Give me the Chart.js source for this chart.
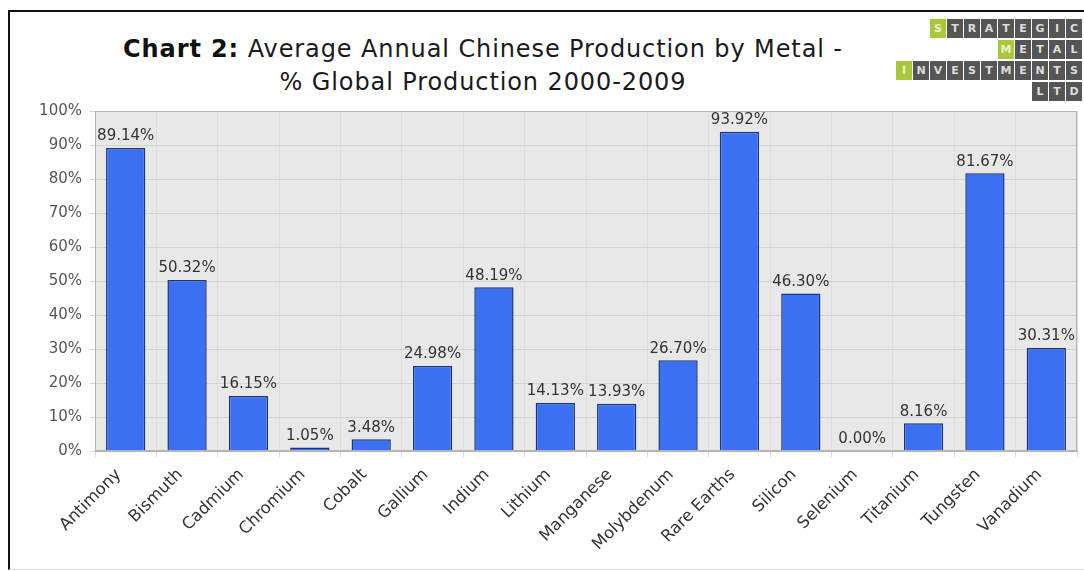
<!DOCTYPE html>
<html>
<head>
<meta charset="utf-8">
<script src="https://cdn.jsdelivr.net/npm/chart.js@4"></script>
<style>
  html, body { margin: 0; padding: 0; background: #fff; }
  #wrap { position: relative; width: 1084px; height: 571px; overflow: hidden; }
  #frame { position: absolute; left: 8px; top: 10px; width: 1090px; height: 557px;
    border-top: 2px solid #111; border-left: 2px solid #111; border-bottom: 1px solid #ddd; }
  #title { position: absolute; left: 93px; top: 33px; width: 780px; text-align: center;
    font-family: "DejaVu Sans", sans-serif; font-size: 24px; line-height: 33px; letter-spacing: 0.9px; color: #1a1a1a; }
  #title b { font-weight: bold; color: #111; }
  #logo { position: absolute; left: 0; top: 0; }
  .cell { position: absolute; width: 16px; height: 19px; background: #555;
    color: #ddd; font: bold 11px "DejaVu Sans", sans-serif; text-align: center; line-height: 19px; }
  .cell.g { background: #a7c83a; color: #eef5cc; }
  canvas { position: absolute; left: 0; top: 0; }
</style>
</head>
<body>
<div id="wrap">
  <div id="frame"></div>
  <div id="title"><b>Chart 2:</b> Average Annual Chinese Production by Metal -<br>% Global Production 2000-2009</div>
  <div id="logo"></div>
  <canvas id="chart" width="1084" height="571"></canvas>
</div>
<script>
const metals = ["Antimony", "Bismuth", "Cadmium", "Chromium", "Cobalt", "Gallium", "Indium", "Lithium",
  "Manganese", "Molybdenum", "Rare Earths", "Silicon", "Selenium", "Titanium", "Tungsten", "Vanadium"];
const chineseShare = [89.14, 50.32, 16.15, 1.05, 3.48, 24.98, 48.19, 14.13, 13.93, 26.70, 93.92, 46.30, 0.00, 8.16, 81.67, 30.31];
const yTicks = [0, 10, 20, 30, 40, 50, 60, 70, 80, 90, 100];

// logo rows: word, right-aligned, first letter green
const logoRows = ["STRATEGIC", "METAL", "INVESTMENTS", "LTD"];
const logo = document.getElementById("logo");
logoRows.forEach((word, r) => {
  for (let i = 0; i < word.length; i++) {
    const d = document.createElement("div");
    d.className = "cell" + (i === 0 && r < 3 ? " g" : "");
    d.textContent = word[i];
    d.style.left = (1083 - (word.length - i) * 17) + "px";
    d.style.top = (19 + r * 21) + "px";
    logo.appendChild(d);
  }
});

// plot background + value labels
const plotBg = {
  id: "plotBg",
  beforeDraw(chart) {
    const { ctx, chartArea: a } = chart;
    ctx.save();
    ctx.fillStyle = "#e8e8e8";
    ctx.fillRect(a.left, a.top, a.right - a.left, a.bottom - a.top);
    ctx.restore();
  },
  afterDraw(chart) {
    const { ctx, chartArea: a } = chart;
    ctx.save();
    ctx.strokeStyle = "#b4b4b4";
    ctx.lineWidth = 1;
    ctx.strokeRect(a.left + 0.5, a.top + 0.5, a.right - a.left - 1, a.bottom - a.top - 1);
    ctx.font = "15px 'DejaVu Sans', sans-serif";
    ctx.fillStyle = "#333";
    ctx.textAlign = "center";
    ctx.textBaseline = "bottom";
    chart.getDatasetMeta(0).data.forEach((bar, i) => {
      ctx.fillText(chineseShare[i].toFixed(2) + "%", bar.x, bar.y - 4);
    });
    ctx.restore();
  }
};

new Chart(document.getElementById("chart"), {
  type: "bar",
  data: {
    labels: metals,
    datasets: [{
      data: chineseShare,
      backgroundColor: "#3b70f3",
      borderColor: "#1d3576",
      borderWidth: 1.5,
      barPercentage: 0.64,
      categoryPercentage: 1
    }]
  },
  options: {
    responsive: false,
    animation: false,
    layout: { padding: { top: 111, right: 7, left: 0, bottom: 0 } },
    plugins: { legend: { display: false }, tooltip: { enabled: false } },
    scales: {
      x: {
        afterFit(scale) { scale.height = 120; },
        grid: { offset: true, color: "#dcdcdc", tickLength: 6, drawOnChartArea: true },
        border: { color: "#b4b4b4" },
        ticks: {
          maxRotation: 45, minRotation: 45, padding: 8, labelOffset: -7,
          color: "#333",
          font: { family: "DejaVu Sans", size: 16.5 }
        }
      },
      y: {
        min: 0, max: 100,
        afterFit(scale) { scale.width = 95; },
        afterBuildTicks(scale) { scale.ticks = yTicks.map(v => ({ value: v })); },
        grid: { color: "#d2d2d2", tickLength: 5 },
        border: { color: "#b4b4b4" },
        ticks: {
          padding: 8,
          color: "#555",
          font: { family: "DejaVu Sans", size: 15 },
          callback: v => v + "%"
        }
      }
    }
  },
  plugins: [plotBg]
});
</script>
</body>
</html>
